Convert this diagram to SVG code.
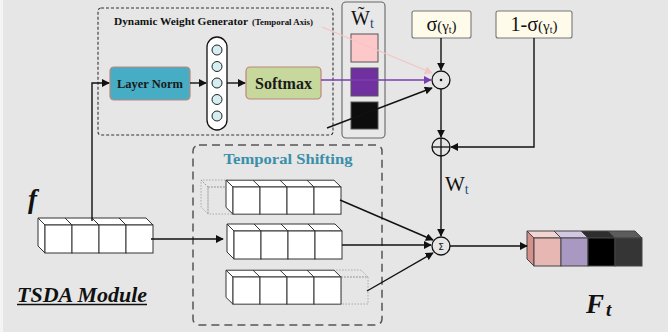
<svg xmlns="http://www.w3.org/2000/svg" width="668" height="332" viewBox="0 0 668 332">
<style>
.bg{fill:#e6e6e6}
.ser{font-family:"Liberation Serif","Times New Roman",serif}
.b{font-weight:bold}
.cube rect,.cube polygon{fill:#fff;stroke:#333;stroke-width:1}
.cube line{stroke:#333;stroke-width:1}
.ghost{fill:none;stroke:#999;stroke-width:0.8;stroke-dasharray:1.5,1.5}
.ln{stroke:#111;stroke-width:1.4;fill:none}
.op{fill:#fff;fill-opacity:0;stroke:#111;stroke-width:1.3}
</style>
<defs>
<marker id="ah" viewBox="0 0 10 10" refX="9" refY="5" markerWidth="8" markerHeight="8" markerUnits="userSpaceOnUse" orient="auto"><path d="M0,0 L10,5 L0,10 z" fill="#111"/></marker>
<marker id="ahp" viewBox="0 0 10 10" refX="9" refY="5" markerWidth="8" markerHeight="8" markerUnits="userSpaceOnUse" orient="auto"><path d="M0,0 L10,5 L0,10 z" fill="#f5c4c4"/></marker>
<marker id="ahv" viewBox="0 0 10 10" refX="9" refY="5" markerWidth="8" markerHeight="8" markerUnits="userSpaceOnUse" orient="auto"><path d="M0,0 L10,5 L0,10 z" fill="#7b3db0"/></marker>
<g id="row4" class="cube">
<polygon points="0,0 -7,-7 101,-7 108,0"/>
<polygon points="0,0 -7,-7 -7,21 0,28"/>
<rect x="0" y="0" width="27" height="28"/>
<rect x="27" y="0" width="27" height="28"/>
<rect x="54" y="0" width="27" height="28"/>
<rect x="81" y="0" width="27" height="28"/>
<line x1="27" y1="0" x2="20" y2="-7"/>
<line x1="54" y1="0" x2="47" y2="-7"/>
<line x1="81" y1="0" x2="74" y2="-7"/>
</g>
</defs>
<rect class="bg" x="0" y="0" width="668" height="332"/>
<rect x="0" y="0" width="3" height="332" fill="#f4f4f4"/>

<!-- Dynamic Weight Generator -->
<g id="dwg">
<rect x="98" y="8" width="235" height="127" rx="3" fill="none" stroke="#333" stroke-width="1.1" stroke-dasharray="3,2"/>
<text class="ser b" x="114" y="25" font-size="9.5" textLength="134" lengthAdjust="spacingAndGlyphs" fill="#111">Dynamic Weight Generator</text>
<text class="ser b" x="252" y="25" font-size="7.5" textLength="61" lengthAdjust="spacingAndGlyphs" fill="#111">(Temporal Axis)</text>
</g>
<g id="layernorm">
<rect x="110" y="67" width="80" height="33" rx="4" fill="#46adc5" stroke="#c0857a" stroke-width="1.2"/>
<text class="ser b" x="150" y="88" font-size="12.5" text-anchor="middle" fill="#1a1a1a">Layer Norm</text>
</g>
<g id="mlp">
<rect x="207" y="37" width="20" height="93" rx="10" fill="#fff" stroke="#111" stroke-width="1.3"/>
<g fill="#d6eef2" stroke="#222" stroke-width="1">
<circle cx="217" cy="50" r="5"/>
<circle cx="217" cy="66.5" r="5"/>
<circle cx="217" cy="83" r="5"/>
<circle cx="217" cy="99.5" r="5"/>
<circle cx="217" cy="116" r="5"/>
</g>
</g>
<g id="softmax">
<rect x="246" y="67" width="75" height="32" rx="4" fill="#c6d89c" stroke="#c0857a" stroke-width="1.2"/>
<text class="ser b" x="283.5" y="89" font-size="16" text-anchor="middle" fill="#1a1a1a">Softmax</text>
</g>

<!-- W tilde panel -->
<g id="wtilde">
<rect x="342" y="2" width="43" height="136" rx="4" fill="#e8e8e8" stroke="#666" stroke-width="1.1"/>
<text class="ser" x="351" y="25" font-size="20" fill="#111">W̃</text>
<text class="ser" x="370" y="28" font-size="14" fill="#1f3f6f">t</text>
<rect x="351" y="34" width="27" height="28" fill="#fdc8ca" stroke="#555" stroke-width="1"/>
<rect x="351" y="68" width="27" height="28" fill="#7030a0" stroke="#555" stroke-width="1"/>
<rect x="351" y="102" width="27" height="27" fill="#0d0d0d" stroke="#555" stroke-width="1"/>
</g>

<g id="sigma">
<rect x="412" y="11" width="59" height="27" rx="2" fill="#fffbea" stroke="#777" stroke-width="1.1"/>
<text class="ser" x="441.5" y="31" font-size="20" text-anchor="middle" fill="#111">σ<tspan font-size="15">(γ</tspan><tspan font-size="10" dy="2">t</tspan><tspan font-size="15" dy="-2">)</tspan></text>
</g>
<g id="oneminus">
<rect x="496" y="11" width="76" height="27" rx="2" fill="#fffbea" stroke="#777" stroke-width="1.1"/>
<text class="ser" x="534" y="31" font-size="20" text-anchor="middle" fill="#111">1-σ<tspan font-size="15">(γ</tspan><tspan font-size="10" dy="2">t</tspan><tspan font-size="15" dy="-2">)</tspan></text>
</g>

<!-- Temporal shifting -->
<g id="temporal">
<rect x="193" y="145" width="189" height="180" rx="6" fill="none" stroke="#555" stroke-width="1.5" stroke-dasharray="8,5"/>
<text class="ser b" x="288" y="164" font-size="15" text-anchor="middle" textLength="129" lengthAdjust="spacingAndGlyphs" fill="#3a8fa9">Temporal Shifting</text>
</g>
<g id="row-top">
<polygon class="ghost" points="208,187 201,180 228,180 235,187"/>
<polygon class="ghost" points="208,187 201,180 201,207 208,214"/>
<rect class="ghost" x="208" y="187" width="27" height="27"/>
<use href="#row4" transform="translate(233,187) scale(1,0.97)"/>
</g>
<g id="row-mid">
<use href="#row4" transform="translate(234,231)"/>
</g>
<g id="row-bot">
<polygon class="ghost" points="341,277 334,270 361,270 368,277"/>
<rect class="ghost" x="341" y="277" width="27" height="27"/>
<use href="#row4" transform="translate(233,277) scale(1,0.97)"/>
</g>
<g id="f-input">
<use href="#row4" transform="translate(45,225)"/>
<text class="ser b" x="28" y="208" font-size="27" font-style="italic" fill="#111">f</text>
</g>
<g id="output">
<polygon points="534,238 527,231 554,231 561,238" fill="#f2d5d1" stroke="#444"/>
<polygon points="561,238 554,231 581,231 588,238" fill="#d3c7e1" stroke="#444"/>
<polygon points="588,238 581,231 608,231 615,238" fill="#2e2e2e" stroke="#444"/>
<polygon points="615,238 608,231 635,231 642,238" fill="#5c5c5c" stroke="#444"/>
<polygon points="534,238 527,231 527,259 534,266" fill="#d4918b" stroke="#444"/>
<rect x="534" y="238" width="27" height="28" fill="#e7b7b3" stroke="#444"/>
<rect x="561" y="238" width="27" height="28" fill="#a998c1" stroke="#444"/>
<rect x="588" y="238" width="27" height="28" fill="#000" stroke="#444"/>
<rect x="615" y="238" width="27" height="28" fill="#353535" stroke="#444"/>
<text class="ser b" x="586" y="313" font-size="27" font-style="italic" fill="#111">F<tspan font-size="19" dx="2" dy="3">t</tspan></text>
</g>
<g id="label-tsda">
<text class="ser b" x="17" y="302" font-size="21" font-style="italic" textLength="130" lengthAdjust="spacingAndGlyphs" fill="#111">TSDA Module</text>
<line x1="17" y1="304.5" x2="147" y2="304.5" stroke="#111" stroke-width="1.4"/>
</g>

<!-- operators -->
<g id="odot">
<circle class="op" cx="441" cy="80" r="9"/>
<circle cx="441" cy="80" r="1.3" fill="#111"/>
</g>
<g id="oplus">
<circle class="op" cx="441" cy="147" r="9"/>
<line x1="432" y1="147" x2="450" y2="147" stroke="#111" stroke-width="1.3"/>
<line x1="441" y1="138" x2="441" y2="156" stroke="#111" stroke-width="1.3"/>
</g>
<g id="sum">
<circle class="op" cx="441" cy="246" r="9"/>
<text x="441" y="249.5" font-family="DejaVu Sans,sans-serif" font-size="9" text-anchor="middle" fill="#111">Σ</text>
</g>
<text class="ser" x="445" y="191" font-size="21" fill="#111">W<tspan font-size="14" dy="3" fill="#1f4e79">t</tspan></text>

<!-- connectors -->
<g id="connectors">
<polyline class="ln" points="92,221 92,83 109,83" marker-end="url(#ah)"/>
<line class="ln" x1="190" y1="83" x2="206" y2="83" marker-end="url(#ah)"/>
<line class="ln" x1="227" y1="83" x2="245" y2="83" marker-end="url(#ah)"/>
<line x1="322" y1="27" x2="432" y2="73" stroke="#f5c4c4" stroke-width="1.3" marker-end="url(#ahp)"/>
<line x1="321" y1="80" x2="431" y2="80" stroke="#7b3db0" stroke-width="1.4" marker-end="url(#ahv)"/>
<line class="ln" x1="327" y1="128" x2="432" y2="88" marker-end="url(#ah)"/>
<line class="ln" x1="441" y1="38" x2="441" y2="70" marker-end="url(#ah)"/>
<line class="ln" x1="441" y1="89" x2="441" y2="137" marker-end="url(#ah)"/>
<polyline class="ln" points="534,38 534,147 451,147" marker-end="url(#ah)"/>
<line class="ln" x1="441" y1="156" x2="441" y2="236" marker-end="url(#ah)"/>
<line class="ln" x1="151" y1="239" x2="223" y2="239" marker-end="url(#ah)"/>
<line class="ln" x1="340" y1="200" x2="433" y2="240" marker-end="url(#ah)"/>
<line class="ln" x1="342" y1="245" x2="431" y2="245" marker-end="url(#ah)"/>
<line class="ln" x1="367" y1="291" x2="433" y2="253" marker-end="url(#ah)"/>
<line class="ln" x1="450" y1="246" x2="527" y2="246" marker-end="url(#ah)"/>
</g>
</svg>
